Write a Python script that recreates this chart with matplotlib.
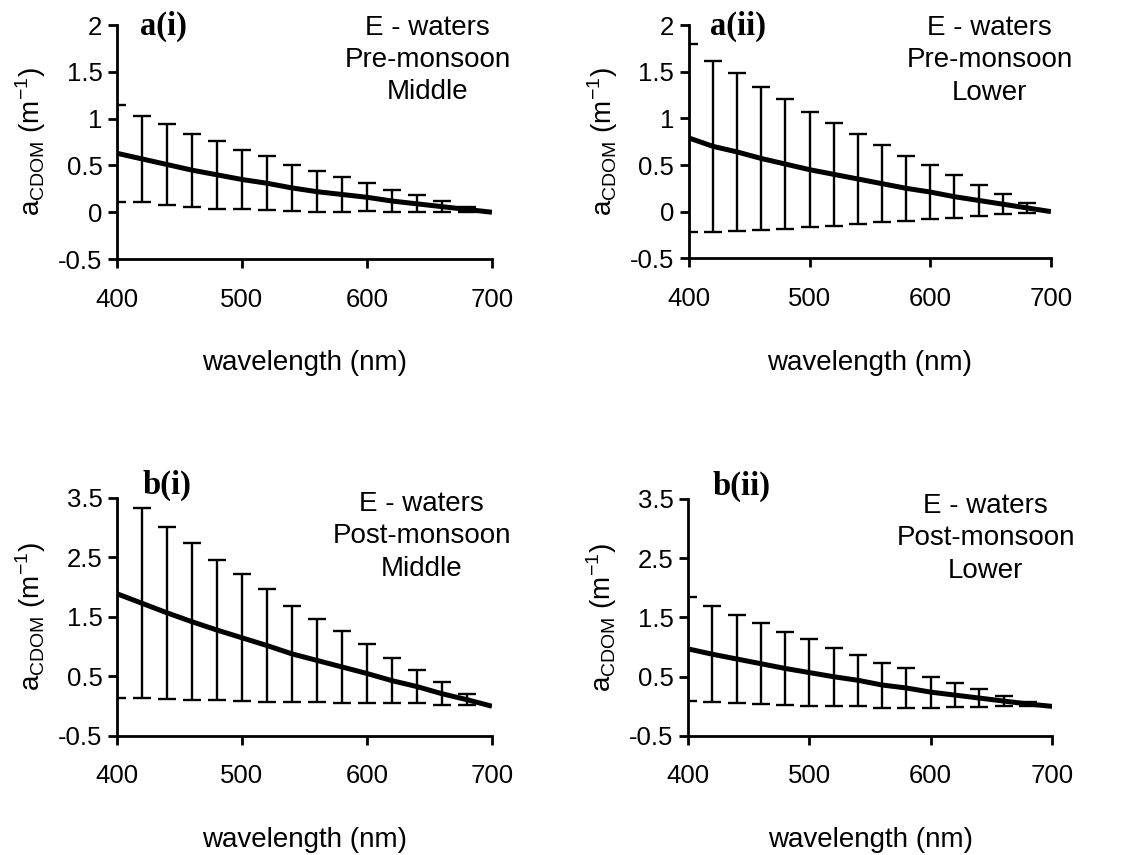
import matplotlib
matplotlib.use("Agg")
import matplotlib.pyplot as plt

plt.rcParams['font.family'] = ['Liberation Sans', 'DejaVu Sans']
plt.rcParams['axes.unicode_minus'] = False

# wavelengths (nm): line runs to 700, error bars stop at 680
wl_line = [400, 420, 440, 460, 480, 500, 520, 540, 560, 580, 600, 620, 640, 660, 680, 700]
wl_err = [400, 420, 440, 460, 480, 500, 520, 540, 560, 580, 600, 620, 640, 660, 680]

# a(i) pre-monsoon, middle
mean_a1 = [0.63, 0.57, 0.51, 0.45, 0.40, 0.35, 0.31, 0.26, 0.22, 0.19, 0.16, 0.12, 0.09, 0.06, 0.03, 0.0]
err_a1 = [0.52, 0.46, 0.43, 0.39, 0.36, 0.32, 0.29, 0.25, 0.22, 0.19, 0.15, 0.12, 0.09, 0.055, 0.03]

# a(ii) pre-monsoon, lower
mean_a2 = [0.79, 0.70, 0.64, 0.57, 0.51, 0.45, 0.40, 0.35, 0.30, 0.25, 0.21, 0.16, 0.12, 0.08, 0.04, 0.0]
err_a2 = [1.01, 0.92, 0.85, 0.77, 0.70, 0.62, 0.55, 0.48, 0.41, 0.35, 0.29, 0.23, 0.17, 0.11, 0.05]

# b(i) post-monsoon, middle
mean_b1 = [1.89, 1.73, 1.57, 1.42, 1.28, 1.15, 1.02, 0.88, 0.77, 0.66, 0.55, 0.43, 0.33, 0.21, 0.11, 0.0]
err_b1 = [1.76, 1.60, 1.45, 1.32, 1.18, 1.07, 0.95, 0.81, 0.70, 0.60, 0.49, 0.38, 0.28, 0.19, 0.09]

# b(ii) post-monsoon, lower
mean_b2 = [0.97, 0.88, 0.80, 0.72, 0.64, 0.57, 0.50, 0.44, 0.36, 0.31, 0.24, 0.19, 0.14, 0.09, 0.04, 0.0]
err_b2 = [0.88, 0.81, 0.74, 0.68, 0.62, 0.56, 0.49, 0.43, 0.38, 0.33, 0.26, 0.20, 0.15, 0.08, 0.03]

yticks_a = [-0.5, 0, 0.5, 1, 1.5, 2]
ylabels_a = ['-0.5', '0', '0.5', '1', '1.5', '2']
yticks_b = [-0.5, 0.5, 1.5, 2.5, 3.5]
ylabels_b = ['-0.5', '0.5', '1.5', '2.5', '3.5']
xticks = [400, 500, 600, 700]

panels = [
    # rect, mean, err, label, text, yticks, ylabels, label pos, text pos
    ([0.1028, 0.697, 0.3295, 0.2737], mean_a1, err_a1, 'a(i)',
     'E - waters\nPre-monsoon\nMiddle', yticks_a, ylabels_a, (0.061, 1.06), (0.829, 1.045)),
    ([0.6054, 0.698, 0.3181, 0.2725], mean_a2, err_a2, 'a(ii)',
     'E - waters\nPre-monsoon\nLower', yticks_a, ylabels_a, (0.058, 1.06), (0.83, 1.045)),
    ([0.1028, 0.1392, 0.3295, 0.2784], mean_b1, err_b1, 'b(i)',
     'E - waters\nPost-monsoon\nMiddle', yticks_b, ylabels_b, (0.067, 1.12), (0.813, 1.03)),
    ([0.6046, 0.1392, 0.3199, 0.2772], mean_b2, err_b2, 'b(ii)',
     'E - waters\nPost-monsoon\nLower', yticks_b, ylabels_b, (0.066, 1.12), (0.818, 1.025)),
]

fig = plt.figure(figsize=(11.38, 8.55), dpi=100)

for rect, mean, err, lab, txt, yt, yl, lpos, tpos in panels:
    ax = fig.add_axes(rect)
    ax.errorbar(wl_err, mean[:len(wl_err)], yerr=err, fmt='none', ecolor='black',
                elinewidth=1.7, capsize=6.5, capthick=1.7)
    ax.plot(wl_line, mean, color='black', lw=3.6, solid_capstyle='butt')
    ax.set_xlim(400, 700)
    ax.set_ylim(yt[0], yt[-1])
    ax.set_xticks(xticks)
    ax.set_xticklabels([str(x) for x in xticks])
    ax.set_yticks(yt)
    ax.set_yticklabels(yl)
    for s in ['top', 'right']:
        ax.spines[s].set_visible(False)
    for s in ['left', 'bottom']:
        ax.spines[s].set_linewidth(2)
    ax.tick_params(axis='both', direction='out', length=6.5, width=2, labelsize=18.5)
    ax.tick_params(axis='y', pad=4)
    ax.tick_params(axis='x', pad=14)
    ax.set_xlabel('wavelength (nm)', fontsize=20, labelpad=28)
    ax.set_ylabel(r'a$_\mathregular{CDOM}$ (m$^\mathregular{-1}$)', fontsize=20, labelpad=7)
    ax.text(lpos[0], lpos[1], lab, transform=ax.transAxes, ha='left', va='top',
            family='Liberation Serif', fontweight='bold', fontsize=23.5)
    ax.text(tpos[0], tpos[1], txt, transform=ax.transAxes, ha='center', va='top',
            fontsize=20, linespacing=1.32, multialignment='center')

fig.savefig('out.png', dpi=100)
